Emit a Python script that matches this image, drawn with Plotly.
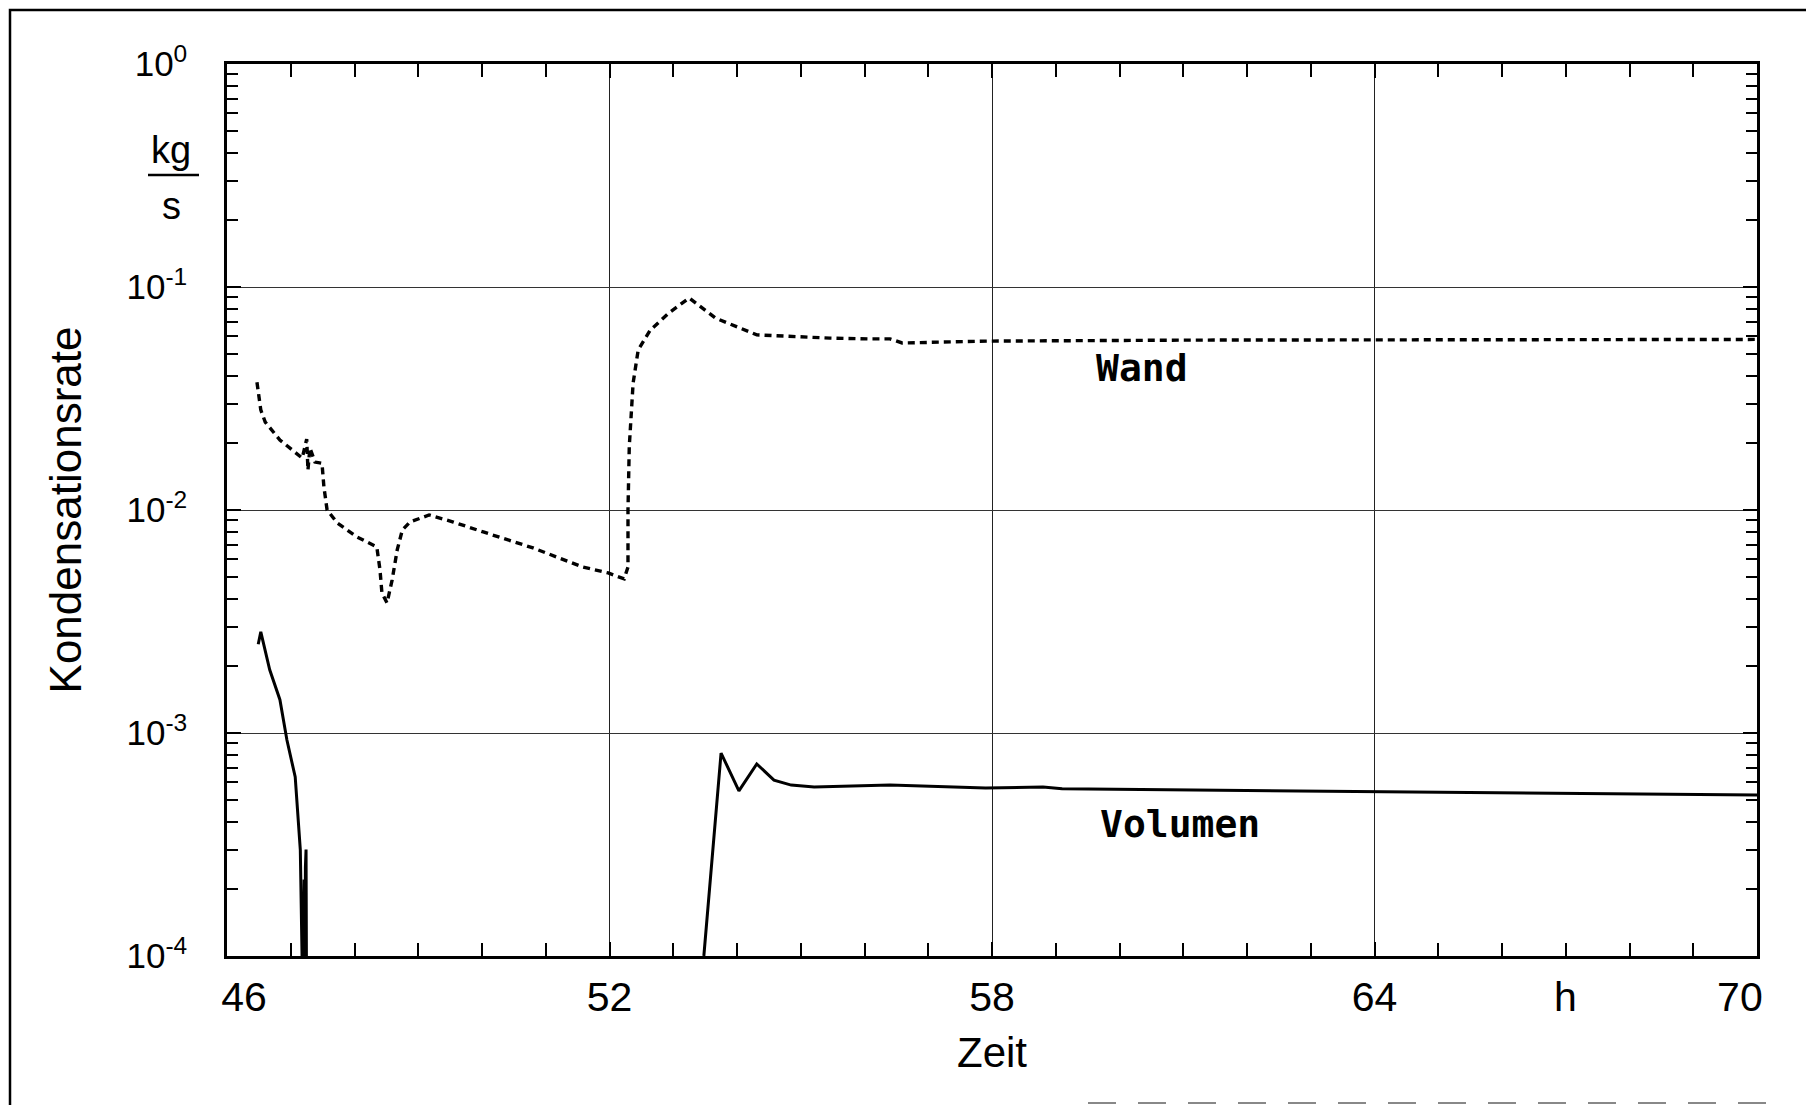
import plotly.graph_objects as go

# ---------------- data ----------------
wand_t = [46.47, 46.53, 46.60, 46.83, 47.18, 47.25, 47.27, 47.30, 47.38, 47.49, 47.52, 47.57,
          47.73, 48.04, 48.35, 48.40, 48.43, 48.51, 48.59, 48.67, 48.75, 48.87, 49.17, 49.55,
          50.02, 50.80, 51.58, 51.98, 52.23, 52.29, 52.29, 52.31, 52.37, 52.45, 52.64, 52.93,
          53.25, 53.66, 54.31, 55.46, 56.06, 56.40, 56.59, 57.56, 57.92, 61.2, 64.0, 70.0]
wand_rate = [0.0374, 0.0281, 0.0248, 0.0206, 0.0171, 0.0208, 0.0151, 0.0190, 0.0164, 0.0162, 0.0127, 0.0100,
             0.00875, 0.00757, 0.00683, 0.00538, 0.00425, 0.00383, 0.00485, 0.00662, 0.00813, 0.00883, 0.0095, 0.00883,
             0.00797, 0.00676, 0.00555, 0.00522, 0.00491, 0.00555, 0.0100, 0.0192, 0.037, 0.0522, 0.0641, 0.0764,
             0.0893, 0.0726, 0.061, 0.059, 0.0585, 0.0585, 0.0561, 0.0566, 0.0572, 0.0578, 0.0580, 0.0582]

vol_t = [46.49, 46.53, 46.67, 46.83, 46.94, 47.07, 47.15, 47.19, 47.21, 47.22, 47.23, 47.24, 47.25,
         None,
         53.48, 53.75, 54.03, 54.31, 54.58, 54.85, 55.21, 56.40, 57.9, 58.8, 59.1, 62.47, 66.0, 70.0]
vol_rate = [0.00250, 0.00284, 0.00192, 0.00141, 0.00093, 0.000635, 0.000299, 0.00006, 0.00022, 0.00005, 0.00025, 0.0003, 0.00004,
            None,
            0.0001, 0.000813, 0.00055, 0.000726, 0.000615, 0.000584, 0.000573, 0.000584, 0.000566, 0.000573, 0.000562, 0.00055, 0.00054, 0.000527]

x_major = [46, 52, 58, 64, 70]
x_major_text = ["\u00a0\u00a0\u00a046", "52", "58", "64", "70\u00a0\u00a0\u00a0"]
y_major = [1e-4, 1e-3, 1e-2, 1e-1, 1e0]
y_exponents = ["-4", "-3", "-2", "-1", "0"]
y_major_text = [f"10<sup>{e}</sup>" for e in y_exponents]
y_minor = [k * 10.0 ** e for e in range(-4, 0) for k in range(2, 10)]

# ---------------- layout geometry (page pixels; page body has an 8px margin) ----------------
OFF = 8
W, H = 1806, 1097
L, R, T, B = 227 - OFF, 1757 - OFF, 64 - OFF, 956 - OFF
PW, PH = R - L, B - T


def px(X):
    return (X - OFF - L) / PW


def py(Y):
    return (B - (Y - OFF)) / PH


FONT = "Liberation Sans, Arial, sans-serif"

fig = go.Figure()
fig.add_trace(go.Scatter(x=wand_t, y=wand_rate, mode="lines", name="Wand",
                         line=dict(color="black", width=3.4, dash="7px,5px"),
                         showlegend=False, connectgaps=False))
fig.add_trace(go.Scatter(x=vol_t, y=vol_rate, mode="lines", name="Volumen",
                         line=dict(color="black", width=3),
                         showlegend=False, connectgaps=False))

fig.update_layout(
    width=W, height=H, autosize=False,
    margin=dict(l=L, r=W - R, t=T, b=H - B, pad=0),
    paper_bgcolor="white", plot_bgcolor="white",
    font=dict(family=FONT, color="black"),
)

fig.update_xaxes(
    range=[46, 70], tickvals=x_major, ticktext=x_major_text,
    tickfont=dict(size=41, family=FONT), ticks="inside", ticklen=14, tickwidth=2, tickcolor="black",
    minor=dict(dtick=1, tick0=46, ticks="inside", ticklen=13, tickwidth=2, tickcolor="black", showgrid=False),
    showline=True, linecolor="black", linewidth=2.5, mirror="ticks",
    showgrid=True, gridcolor="#222222", gridwidth=1.3, zeroline=False,
    ticklabelstandoff=3,
    title=dict(text="Zeit", font=dict(size=42, family=FONT), standoff=19),
)
fig.update_yaxes(
    type="log", range=[-4, 0], tickvals=y_major, ticktext=y_major_text,
    tickfont=dict(size=35, family=FONT), ticks="inside", ticklen=14, tickwidth=2, tickcolor="black",
    minor=dict(tickvals=y_minor, ticks="inside", ticklen=11, tickwidth=2, tickcolor="black", showgrid=False),
    showline=True, linecolor="black", linewidth=2.5, mirror="ticks",
    showgrid=True, gridcolor="#333333", gridwidth=1.2, zeroline=False,
    ticklabelstandoff=30,
    title=dict(text="Kondensationsrate", font=dict(size=44, family=FONT), standoff=32),
)

# unit labels
fig.add_annotation(x=67, xref="x", y=py(997), yref="paper", text="h", showarrow=False,
                   font=dict(size=41, family=FONT), xanchor="center", yanchor="middle")
fig.add_annotation(x=px(171), xref="paper", y=py(150), yref="paper", text="kg", showarrow=False,
                   font=dict(size=38, family=FONT), xanchor="center", yanchor="middle")
fig.add_annotation(x=px(171), xref="paper", y=py(206), yref="paper", text="s", showarrow=False,
                   font=dict(size=38, family=FONT), xanchor="center", yanchor="middle")
fig.add_shape(type="line", xref="paper", yref="paper", x0=px(148), x1=px(199), y0=py(175), y1=py(175),
              line=dict(color="black", width=2.5))

# curve labels
fig.add_annotation(x=60.35, y=-1.363, xref="x", yref="y", text="<b>Wand</b>", showarrow=False,
                   font=dict(size=38, family="DejaVu Sans Mono"), xanchor="center", yanchor="middle")
fig.add_annotation(x=60.95, y=-3.408, xref="x", yref="y", text="<b>Volumen</b>", showarrow=False,
                   font=dict(size=38, family="DejaVu Sans Mono"), xanchor="center", yanchor="middle")

# outer frame
fig.add_shape(type="path", xref="paper", yref="paper",
              path=f"M {px(10)} {py(1105)} L {px(10)} {py(10)} L {px(1809)} {py(10)} L {px(1809)} {py(1105)}",
              line=dict(color="black", width=2.5))
fig.add_shape(type="line", xref="paper", yref="paper", x0=px(1088), x1=px(1782), y0=py(1103), y1=py(1103),
              line=dict(color="#888888", width=2, dash="28px,22px"))

fig.write_html("out.html")
